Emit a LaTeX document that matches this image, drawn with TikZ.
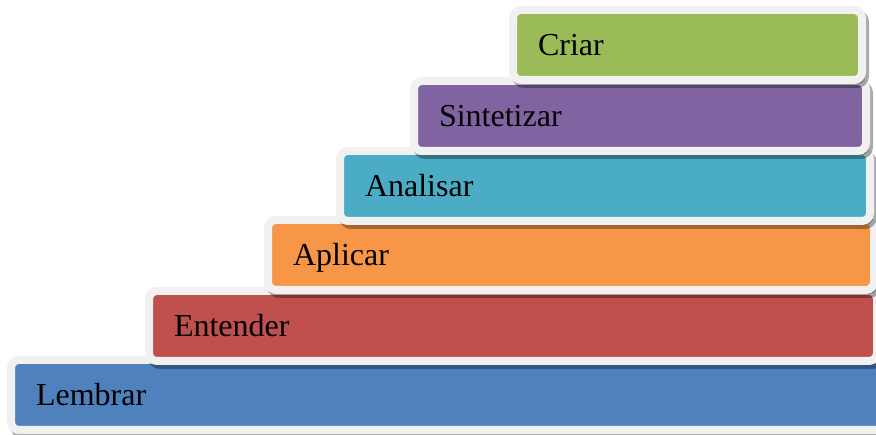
\documentclass[tikz,border=0pt]{standalone}
\usepackage{fontspec}
\setmainfont{Liberation Serif}
\definecolor{bordergrey}{HTML}{F1F1F1}
\definecolor{cgreen}{HTML}{9BBB59}
\definecolor{cpurple}{HTML}{8064A2}
\definecolor{cteal}{HTML}{4BACC6}
\definecolor{corange}{HTML}{F79646}
\definecolor{cred}{HTML}{C0504D}
\definecolor{cblue}{HTML}{4F81BD}
\tikzset{
  bar/.style={draw=bordergrey, line width=8pt, rounded corners=8pt,
    outer sep=0pt, inner xsep=25pt, inner ysep=0pt,
    minimum height=70pt, anchor=north west,
    text height=21pt, text depth=0pt, align=left,
    font=\fontsize{32}{38}\selectfont,
    preaction={draw=black, fill=black, line width=8pt, opacity=0.33,
      transform canvas={xshift=3pt, yshift=-4pt}}},
}
\begin{document}
\begin{tikzpicture}[x=1pt,y=1pt]
\clip (0,0) rectangle (876,435);
\fill[white] (0,0) rectangle (876,435);
% inner L,T,R ; path = inner expanded by 4
\node[bar, fill=cblue,   minimum width=884pt, text width=834pt] (lembrar)    at (11,435-360)  {Lembrar};
\node[bar, fill=cred,    minimum width=728pt, text width=678pt] (entender)   at (149,435-291) {Entender};
\node[bar, fill=corange, minimum width=606pt, text width=556pt] (aplicar)    at (268,435-220) {Aplicar};
\node[bar, fill=cteal,   minimum width=530pt, text width=480pt] (analisar)   at (340,435-151) {Analisar};
\node[bar, fill=cpurple, minimum width=452pt, text width=402pt] (sintetizar) at (414,435-81)  {Sintetizar};
\node[bar, fill=cgreen,  minimum width=349pt, text width=299pt] (criar)      at (513,435-10)  {Criar};
\end{tikzpicture}
\end{document}
